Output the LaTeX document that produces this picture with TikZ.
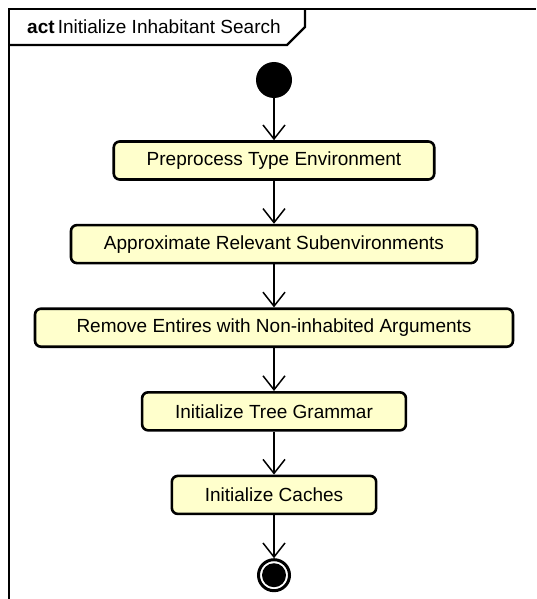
\documentclass[tikz,border=0pt]{standalone}
\usepackage{fontspec}
\setmainfont{Liberation Sans}
\usetikzlibrary{positioning,arrows.meta}
\definecolor{actfill}{HTML}{FFFFCC}
\tikzset{
  action/.style={draw, line width=2.6pt, rounded corners=6pt, fill=actfill,
                 minimum height=38pt, inner xsep=33pt,
                 font=\fontsize{19}{22}\selectfont},
  startnode/.style={circle, fill=black, minimum size=36pt, inner sep=0pt},
  endnode/.style={circle, draw, line width=3pt, fill=white, minimum size=31pt, inner sep=0pt},
  flow/.style={-{Straight Barb[length=14pt,width=22pt,line width=1.5pt]}, line width=1.5pt},
}
\begin{document}
\begin{tikzpicture}[x=1pt, y=-1pt, node distance=43pt]
  \useasboundingbox (0,0) rectangle (536,599);
  % frame and its name tab
  \draw[line width=1.5pt] (9,599) -- (9,9) -- (536,9);
  \draw[line width=2.4pt] (305,9) -- (305,27) -- (287,45) -- (9,45);
  \node[anchor=west, inner sep=0pt, font=\fontsize{19}{22}\selectfont] (title) at (27,27)
    {\textbf{act}\,Initialize Inhabitant Search};

  \node[startnode] (init) at (274,80) {};
  \node[action, below=42pt of init] (prep) {Preprocess Type Environment};
  \node[action, below=of prep] (approx) {Approximate Relevant Subenvironments};
  \node[action, below=of approx, minimum width=478pt] (remove) {Remove Entires with Non-inhabited Arguments};
  \node[action, below=of remove] (grammar) {Initialize Tree Grammar};
  \node[action, below=of grammar] (caches) {Initialize Caches};
  \node[endnode, below=43pt of caches] (final) {};
  \fill (final) circle (12pt);

  \draw[flow] (init) -- (prep);
  \draw[flow] (prep) -- (approx);
  \draw[flow] (approx) -- (remove);
  \draw[flow] (remove) -- (grammar);
  \draw[flow] (grammar) -- (caches);
  \draw[flow] (caches) -- (final);
\end{tikzpicture}
\end{document}
